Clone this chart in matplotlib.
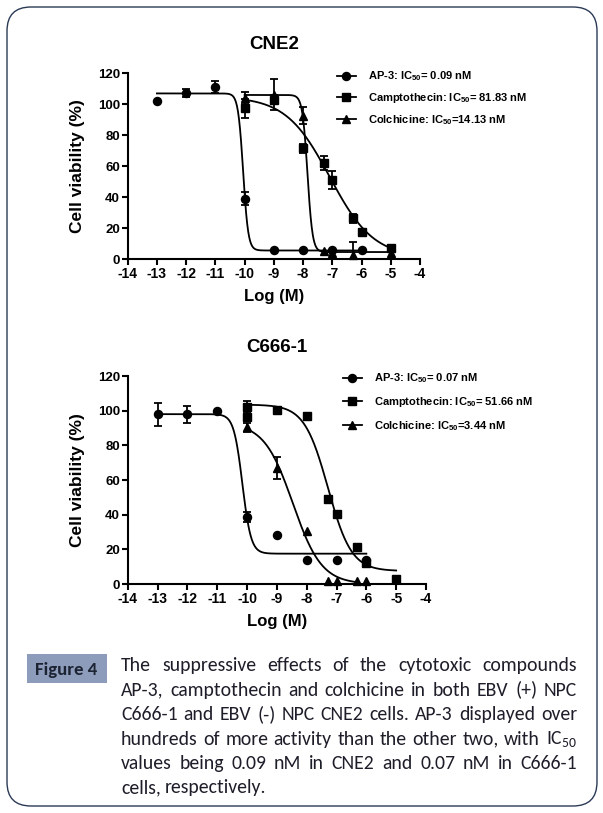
"""Figure 4 — dose-response curves of AP-3, camptothecin and colchicine in CNE2 and C666-1."""
import matplotlib
matplotlib.use("Agg")
import matplotlib.pyplot as plt
import numpy as np
from matplotlib import font_manager
from matplotlib.font_manager import FontProperties
from matplotlib.lines import Line2D
from matplotlib.patches import FancyBboxPatch, Rectangle
from matplotlib.transforms import IdentityTransform

AX_FONT = "Liberation Sans"
_installed = {f.name for f in font_manager.fontManager.ttflist}
CAP_FONT = "Carlito" if "Carlito" in _installed else "Lato"

plt.rcParams["axes.unicode_minus"] = False
plt.rcParams["mathtext.fontset"] = "custom"
plt.rcParams["mathtext.rm"] = CAP_FONT
plt.rcParams["mathtext.bf"] = AX_FONT + ":bold"

# ---- CNE2 data (log M, % viability, error) ----
CNE2_AP3_X = [-13, -12, -11, -10, -9, -8, -7, -6]
CNE2_AP3_Y = [102, 107.5, 111, 39, 6, 5.5, 5.5, 5.5]
CNE2_AP3_E = [0, 2.5, 3.8, 4.3, 0, 0, 0, 0]

CNE2_CPT_X = [-10, -9, -8, -7.3, -7, -6.3, -6, -5]
CNE2_CPT_Y = [97.4, 103, 71.5, 62, 51, 26.3, 17.4, 7]
CNE2_CPT_E = [6, 3, 3, 4.5, 6, 3, 0, 2]

CNE2_COL_X = [-10, -9, -8, -7.3, -7, -6.3, -5]
CNE2_COL_Y = [104, 106, 92.5, 5, 3.8, 2.5, 4]
CNE2_COL_E = [4, 10, 5.5, 0, 0, 8.5, 0]

# fitted curve parameters: top, bottom, logIC50, hill, x from, x to
CNE2_AP3_FIT = [107, 5.5, -10.05, 5.0, -13, -6]
CNE2_CPT_FIT = [105, 1.0, -7.087, 0.58, -10, -5]
CNE2_COL_FIT = [106, 4.5, -7.85, 5.0, -10, -5]

# ---- C666-1 data ----
C666_AP3_X = [-13, -12, -11, -10, -9, -8, -7, -6]
C666_AP3_Y = [97.9, 97.9, 99.8, 38.8, 28.3, 13.8, 13.8, 13.8]
C666_AP3_E = [6.5, 5, 0, 3, 0, 0, 0, 0]

C666_CPT_X = [-10, -10, -9, -8, -7.3, -7, -6.3, -6, -5]
C666_CPT_Y = [102.3, 96.5, 100.5, 97, 49, 40.4, 21.5, 11.9, 3]
C666_CPT_E = [3.5, 0, 0, 1.5, 2, 0, 0, 0, 0]

C666_COL_X = [-10, -9, -8, -7.3, -7, -6.3, -6]
C666_COL_Y = [90.3, 66.7, 30.8, 1.9, 1.9, 1.7, 1.7]
C666_COL_E = [2.5, 6.3, 0, 0, 0, 0, 0]

C666_AP3_FIT = [98, 17.5, -10.155, 3.0, -13, -6]
C666_CPT_FIT = [103.5, 7.5, -7.287, 1.1, -10, -5]
C666_COL_FIT = [93, 0.0, -8.463, 0.9, -10, -6.3]

CNE2_LABELS = ["AP-3: IC$_{\\mathbf{50}}$= 0.09 nM",
               "Camptothecin: IC$_{\\mathbf{50}}$= 81.83 nM",
               "Colchicine: IC$_{\\mathbf{50}}$=14.13 nM"]
C666_LABELS = ["AP-3: IC$_{\\mathbf{50}}$= 0.07 nM",
               "Camptothecin: IC$_{\\mathbf{50}}$= 51.66 nM",
               "Colchicine: IC$_{\\mathbf{50}}$=3.44 nM"]

X_TICKS = list(range(-14, -3))
Y_TICKS = [0, 20, 40, 60, 80, 100, 120]

CAPTION_LINES = [
    "The suppressive effects of the cytotoxic compounds",
    "AP-3, camptothecin and colchicine in both EBV (+) NPC",
    "C666-1 and EBV (-) NPC CNE2 cells. AP-3 displayed over",
    "hundreds of more activity than the other two, with IC$_{50}$",
    "values being 0.09 nM in CNE2 and 0.07 nM in C666-1",
    "cells, respectively.",
]

MARKERS = [("o", 5.8), ("s", 5.4), ("^", 6.2)]
W, H = 603, 813


def _curve(fit):
    top, bottom, log_ic50, hill, x0, x1 = fit
    xs = np.linspace(x0, x1, 400)
    return xs, bottom + (top - bottom) / (1 + 10 ** ((xs - log_ic50) * hill))


def draw_panel(ax, series, fits, labels, title, legend_xy, spacing):
    for (x, y, e), fit, (mk, ms) in zip(series, fits, MARKERS):
        x, y, e = map(np.asarray, (x, y, e))
        xs, ys = _curve(fit)
        ax.plot(xs, ys, color="black", lw=1.3, zorder=2)
        has = e > 0
        ax.errorbar(x[has], y[has], yerr=e[has], fmt="none", ecolor="black",
                    elinewidth=1.3, capsize=3.2, capthick=1.3, zorder=3)
        ax.plot(x, y, mk, ms=ms, color="black", ls="none", clip_on=False, zorder=4)

    ax.set_xlim(-14, -4)
    ax.set_ylim(0, 120)
    ax.set_xticks(X_TICKS)
    ax.set_yticks(Y_TICKS)
    for s in ("top", "right"):
        ax.spines[s].set_visible(False)
    for s in ("left", "bottom"):
        ax.spines[s].set_linewidth(1.5)
    ax.tick_params(width=1.5, length=4, pad=1.5)
    for lab in ax.get_xticklabels():
        lab.set_fontproperties(FontProperties(family=AX_FONT, weight="bold", size=10))
    for lab in ax.get_yticklabels():
        lab.set_fontproperties(FontProperties(family=AX_FONT, weight="bold", size=9.5))

    ax.set_xlabel("Log (M)", family=AX_FONT, weight="bold", fontsize=12)
    ax.set_ylabel("Cell viability (%)", family=AX_FONT, weight="bold", fontsize=12.5)
    bb = ax.get_position()
    wpx, hpx = bb.width * W, bb.height * H
    ax.xaxis.set_label_coords(0.5, -37 / hpx)
    ax.xaxis.label.set_va("center")
    ax.yaxis.set_label_coords(-50 / wpx, 0.5)
    ax.yaxis.label.set_va("center")
    ax.text(0.5, 1 + 29 / hpx, title, transform=ax.transAxes, ha="center",
            va="center", family=AX_FONT, weight="bold", fontsize=13.5)

    handles = [Line2D([], [], color="black", lw=1.3, marker=mk, ms=ms)
               for mk, ms in MARKERS]
    ax.legend(handles, labels, loc="upper left", bbox_to_anchor=legend_xy,
              bbox_transform=ax.figure.transFigure, frameon=False,
              prop=FontProperties(family=AX_FONT, weight="bold", size=8),
              handlelength=1.7, handletextpad=1.1, labelspacing=spacing,
              borderpad=0, borderaxespad=0)


fig = plt.figure(figsize=(W / 100, H / 100), dpi=100)

ax1 = fig.add_axes([127.7 / W, 1 - 259 / H, 292.3 / W, 185.7 / H])
draw_panel(ax1,
           [(CNE2_AP3_X, CNE2_AP3_Y, CNE2_AP3_E),
            (CNE2_CPT_X, CNE2_CPT_Y, CNE2_CPT_E),
            (CNE2_COL_X, CNE2_COL_Y, CNE2_COL_E)],
           [CNE2_AP3_FIT, CNE2_CPT_FIT, CNE2_COL_FIT],
           CNE2_LABELS, "CNE2", (337 / W, 1 - 69.5 / H), 0.7)

ax2 = fig.add_axes([127.7 / W, 1 - 584 / H, 298.3 / W, 208 / H])
draw_panel(ax2,
           [(C666_AP3_X, C666_AP3_Y, C666_AP3_E),
            (C666_CPT_X, C666_CPT_Y, C666_CPT_E),
            (C666_COL_X, C666_COL_Y, C666_COL_E)],
           [C666_AP3_FIT, C666_CPT_FIT, C666_COL_FIT],
           C666_LABELS, "C666-1", (343 / W, 1 - 371.5 / H), 0.88)

# outer rounded frame (pixel coordinates)
frame = FancyBboxPatch((7, 7), 590, 799, boxstyle="round,pad=0,rounding_size=24",
                       transform=IdentityTransform(), fill=False,
                       edgecolor="#2b3a55", lw=1.0)
fig.patches.append(frame)

# caption
fig.patches.append(Rectangle((27 / W, 1 - 683 / H), 80 / W, 29 / H,
                             transform=fig.transFigure, color="#8e9cbb", lw=0))
fig.text(66 / W, 1 - 669.5 / H, "Figure 4", ha="center", va="center",
         family=CAP_FONT, weight="bold", fontsize=13.5, color="#1c2433")

CAP_SIZE = 14.2
CAP_COLOR = "#1e1e2a"
renderer = fig.canvas.get_renderer()


def _width(s):
    t = fig.text(0, 0, s, family=CAP_FONT, fontsize=CAP_SIZE)
    w = t.get_window_extent(renderer).width
    t.remove()
    return w


space_w = _width("a a") - _width("aa")
left, right = 121, 577
baselines = [671, 695.5, 720, 744.5, 769, 793]
for i, (line, base) in enumerate(zip(CAPTION_LINES, baselines)):
    words = line.split(" ")
    widths = [_width(w) for w in words]
    if i < len(CAPTION_LINES) - 1 and len(words) > 1:
        gap = (right - left - sum(widths)) / (len(words) - 1)
    else:
        gap = space_w
    x = left
    for word, w in zip(words, widths):
        fig.text(x / W, 1 - base / H, word, family=CAP_FONT, fontsize=CAP_SIZE,
                 color=CAP_COLOR, ha="left", va="baseline")
        x += w + gap

fig.savefig("out.png", dpi=100, facecolor="white")
